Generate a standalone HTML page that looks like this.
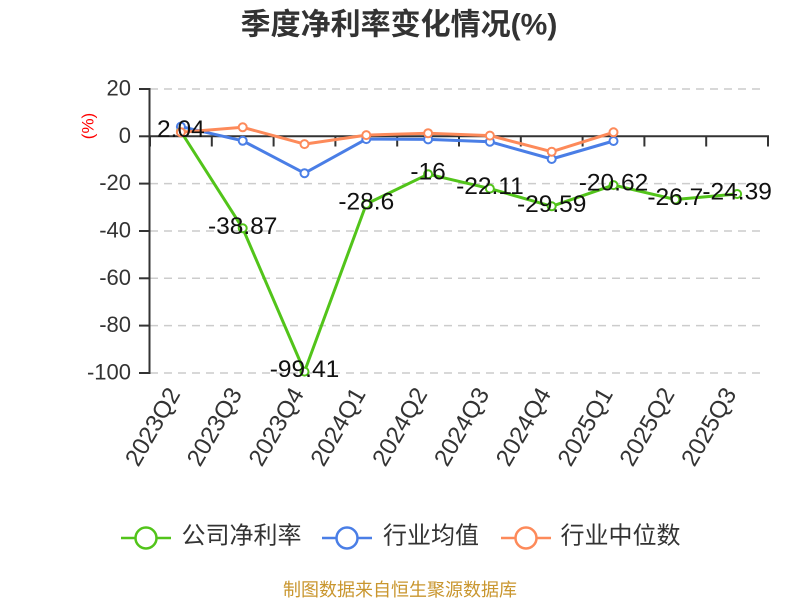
<!DOCTYPE html>
<html>
<head>
<meta charset="utf-8">
<style>
  html,body{margin:0;padding:0;background:#fff;}
  svg{display:block;}
  text{font-family:"Liberation Sans","Noto Sans CJK SC",sans-serif;}
</style>
</head>
<body>
<svg width="800" height="600" viewBox="0 0 800 600" xmlns="http://www.w3.org/2000/svg">
  <!-- Title -->
  <text x="399" y="25" text-anchor="middle" dominant-baseline="central" font-size="30" font-weight="bold" fill="#333">季度净利率变化情况(%)</text>

  <!-- Grid dashed lines -->
  <g stroke="#cccccc" stroke-width="1.5" stroke-dasharray="8 6">
    <line x1="150" y1="89" x2="766" y2="89"/>
    <line x1="150" y1="183.6" x2="766" y2="183.6"/>
    <line x1="150" y1="231" x2="766" y2="231"/>
    <line x1="150" y1="278.3" x2="766" y2="278.3"/>
    <line x1="150" y1="325.6" x2="766" y2="325.6"/>
    <line x1="150" y1="373" x2="766" y2="373"/>
  </g>

  <!-- Y axis -->
  <g stroke="#333" stroke-width="2">
    <line x1="149.5" y1="88" x2="149.5" y2="374"/>
    <line x1="139" y1="89" x2="149.5" y2="89"/>
    <line x1="139" y1="136.3" x2="149.5" y2="136.3"/>
    <line x1="139" y1="183.6" x2="149.5" y2="183.6"/>
    <line x1="139" y1="231" x2="149.5" y2="231"/>
    <line x1="139" y1="278.3" x2="149.5" y2="278.3"/>
    <line x1="139" y1="325.6" x2="149.5" y2="325.6"/>
    <line x1="139" y1="373" x2="149.5" y2="373"/>
  </g>
  <g font-size="22" fill="#333" text-anchor="end" dominant-baseline="central">
    <text x="131" y="88">20</text>
    <text x="131" y="135.3">0</text>
    <text x="131" y="182.6">-20</text>
    <text x="131" y="230">-40</text>
    <text x="131" y="277.3">-60</text>
    <text x="131" y="324.6">-80</text>
    <text x="131" y="372">-100</text>
  </g>
  <text x="0" y="0" transform="translate(88,126) rotate(-90)" text-anchor="middle" dominant-baseline="central" font-size="17" fill="#ff0000">(%)</text>

  <!-- X axis at zero -->
  <g stroke="#333" stroke-width="2">
    <line x1="149" y1="136.3" x2="769" y2="136.3"/>
    <line x1="150" y1="136.3" x2="150" y2="146.5"/>
    <line x1="211.8" y1="136.3" x2="211.8" y2="146.5"/>
    <line x1="273.6" y1="136.3" x2="273.6" y2="146.5"/>
    <line x1="335.4" y1="136.3" x2="335.4" y2="146.5"/>
    <line x1="397.2" y1="136.3" x2="397.2" y2="146.5"/>
    <line x1="459" y1="136.3" x2="459" y2="146.5"/>
    <line x1="520.8" y1="136.3" x2="520.8" y2="146.5"/>
    <line x1="582.6" y1="136.3" x2="582.6" y2="146.5"/>
    <line x1="644.4" y1="136.3" x2="644.4" y2="146.5"/>
    <line x1="706.2" y1="136.3" x2="706.2" y2="146.5"/>
    <line x1="768" y1="136.3" x2="768" y2="146.5"/>
  </g>

  <!-- X labels -->
  <g font-size="24" fill="#333" text-anchor="end" dominant-baseline="central">
    <text transform="translate(174.4,390) rotate(-60)">2023Q2</text>
    <text transform="translate(236.2,390) rotate(-60)">2023Q3</text>
    <text transform="translate(298,390) rotate(-60)">2023Q4</text>
    <text transform="translate(359.8,390) rotate(-60)">2024Q1</text>
    <text transform="translate(421.6,390) rotate(-60)">2024Q2</text>
    <text transform="translate(483.4,390) rotate(-60)">2024Q3</text>
    <text transform="translate(545.2,390) rotate(-60)">2024Q4</text>
    <text transform="translate(607,390) rotate(-60)">2025Q1</text>
    <text transform="translate(668.8,390) rotate(-60)">2025Q2</text>
    <text transform="translate(730.6,390) rotate(-60)">2025Q3</text>
  </g>

  <!-- Green series: company -->
  <polyline fill="none" stroke="#52c41a" stroke-width="3" stroke-linejoin="round"
    points="180.9,131.5 242.7,228.3 304.5,371.6 366.3,204.0 428.1,174.2 489.9,188.6 551.7,206.3 613.5,185.1 675.3,199.5 737.1,194.0"/>
  <g fill="#fff" stroke="#52c41a" stroke-width="2">
    <circle cx="180.9" cy="131.5" r="4"/>
    <circle cx="242.7" cy="228.3" r="4"/>
    <circle cx="304.5" cy="371.6" r="4"/>
    <circle cx="366.3" cy="204.0" r="4"/>
    <circle cx="428.1" cy="174.2" r="4"/>
    <circle cx="489.9" cy="188.6" r="4"/>
    <circle cx="551.7" cy="206.3" r="4"/>
    <circle cx="613.5" cy="185.1" r="4"/>
    <circle cx="675.3" cy="199.5" r="4"/>
    <circle cx="737.1" cy="194.0" r="4"/>
  </g>

  <!-- Blue series: industry average -->
  <polyline fill="none" stroke="#4a7ee6" stroke-width="3" stroke-linejoin="round"
    points="180.9,126.6 242.7,140.8 304.5,173.2 366.3,139.1 428.1,139.4 489.9,141.7 551.7,159.0 613.5,141.0"/>
  <g fill="#fff" stroke="#4a7ee6" stroke-width="2">
    <circle cx="180.9" cy="126.6" r="4"/>
    <circle cx="242.7" cy="140.8" r="4"/>
    <circle cx="304.5" cy="173.2" r="4"/>
    <circle cx="366.3" cy="139.1" r="4"/>
    <circle cx="428.1" cy="139.4" r="4"/>
    <circle cx="489.9" cy="141.7" r="4"/>
    <circle cx="551.7" cy="159.0" r="4"/>
    <circle cx="613.5" cy="141.0" r="4"/>
  </g>

  <!-- Orange series: industry median -->
  <polyline fill="none" stroke="#fd8a5a" stroke-width="3" stroke-linejoin="round"
    points="180.9,132.3 242.7,127.3 304.5,144.1 366.3,135.1 428.1,133.2 489.9,135.6 551.7,151.7 613.5,132.3"/>
  <g fill="#fff" stroke="#fd8a5a" stroke-width="2">
    <circle cx="180.9" cy="132.3" r="4"/>
    <circle cx="242.7" cy="127.3" r="4"/>
    <circle cx="304.5" cy="144.1" r="4"/>
    <circle cx="366.3" cy="135.1" r="4"/>
    <circle cx="428.1" cy="133.2" r="4"/>
    <circle cx="489.9" cy="135.6" r="4"/>
    <circle cx="551.7" cy="151.7" r="4"/>
    <circle cx="613.5" cy="132.3" r="4"/>
  </g>

  <!-- Data labels -->
  <g font-size="24.5" fill="#111" text-anchor="middle" dominant-baseline="central">
    <text x="180.9" y="129.5">2.04</text>
    <text x="242.7" y="226.3">-38.87</text>
    <text x="304.5" y="369.6">-99.41</text>
    <text x="366.3" y="202.0">-28.6</text>
    <text x="428.1" y="172.2">-16</text>
    <text x="489.9" y="186.6">-22.11</text>
    <text x="551.7" y="204.3">-29.59</text>
    <text x="613.5" y="183.1">-20.62</text>
    <text x="675.3" y="197.5">-26.7</text>
    <text x="737.1" y="192.0">-24.39</text>
  </g>

  <!-- Legend -->
  <g stroke-width="2.5" fill="#fff">
    <line x1="121" y1="538" x2="171" y2="538" stroke="#52c41a"/>
    <circle cx="146" cy="538" r="10.5" stroke="#52c41a"/>
    <line x1="322" y1="538" x2="372" y2="538" stroke="#4a7ee6"/>
    <circle cx="347" cy="538" r="10.5" stroke="#4a7ee6"/>
    <line x1="501" y1="538" x2="551" y2="538" stroke="#fd8a5a"/>
    <circle cx="526" cy="538" r="10.5" stroke="#fd8a5a"/>
  </g>
  <g font-size="24" fill="#333" dominant-baseline="central">
    <text x="181.5" y="536">公司净利率</text>
    <text x="383" y="536">行业均值</text>
    <text x="560.5" y="536">行业中位数</text>
  </g>

  <!-- Footer -->
  <text x="400" y="590" text-anchor="middle" dominant-baseline="central" font-size="18" fill="#c9962e">制图数据来自恒生聚源数据库</text>
</svg>
</body>
</html>
